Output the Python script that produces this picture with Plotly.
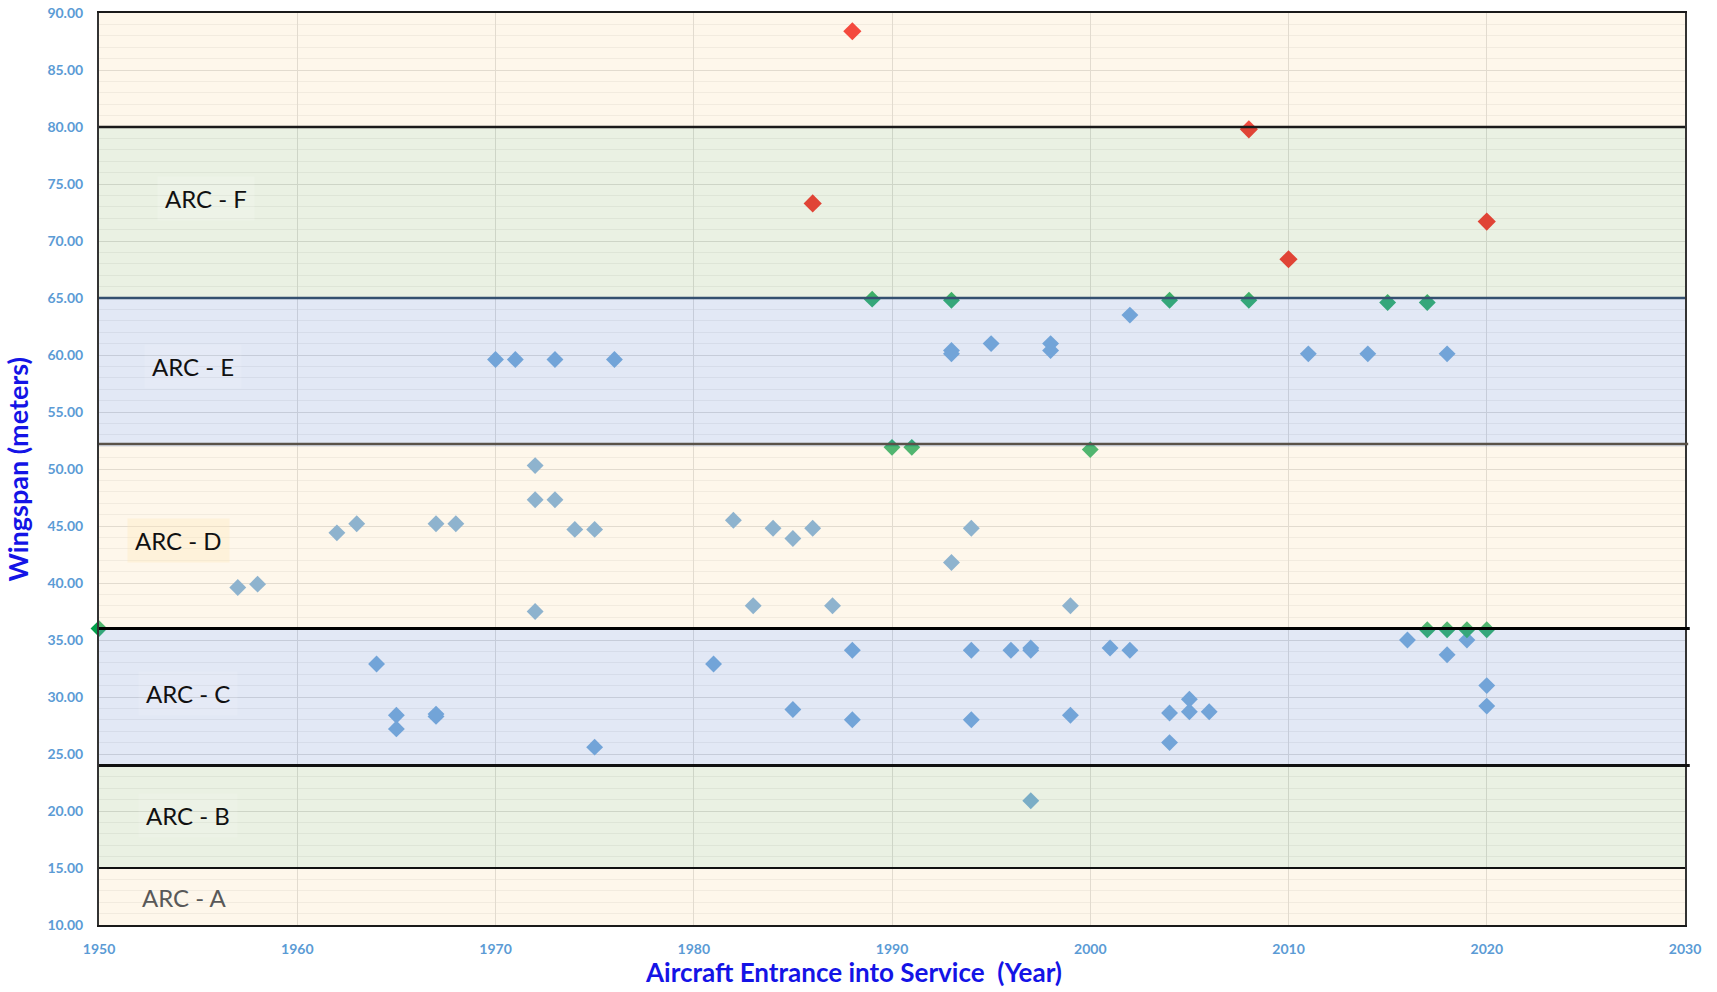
import plotly.graph_objects as go

# ---------------- data ----------------
blue_years = [1957, 1958, 1962, 1963, 1967, 1968, 1972, 1972, 1973, 1974, 1975, 1972,
              1982, 1984, 1985, 1986, 1983, 1987, 1993, 1994, 1999,
              1970, 1971, 1973, 1976, 1993, 1993, 1995, 1998, 1998, 2002, 2011, 2014, 2018,
              1964, 1965, 1965, 1967, 1967, 1975, 1981, 1985, 1988, 1988, 1994, 1994, 1996,
              1997, 1997, 1999, 2001, 2002, 2004, 2004, 2005, 2005, 2006, 2016, 2018, 2019,
              2020, 2020,
              1997]
blue_span = [39.6, 39.9, 44.4, 45.2, 45.2, 45.2, 50.3, 47.3, 47.3, 44.7, 44.7, 37.5,
             45.5, 44.8, 43.9, 44.8, 38.0, 38.0, 41.8, 44.8, 38.0,
             59.6, 59.6, 59.6, 59.6, 60.4, 60.1, 61.0, 61.0, 60.4, 63.5, 60.1, 60.1, 60.1,
             32.9, 28.4, 27.2, 28.3, 28.5, 25.6, 32.9, 28.9, 34.1, 28.0, 34.1, 28.0, 34.1,
             34.1, 34.3, 28.4, 34.3, 34.1, 28.6, 26.0, 29.8, 28.7, 28.7, 35.0, 33.7, 35.0,
             31.0, 29.2,
             20.9]

green_years = [1950, 1989, 1993, 2004, 2008, 2015, 2017, 1990, 1991, 2000, 2017, 2018, 2019, 2020]
green_span = [36.0, 64.9, 64.8, 64.8, 64.8, 64.6, 64.6, 51.9, 51.9, 51.7, 35.9, 35.9, 35.9, 35.9]

red_years = [1988, 1986, 2008, 2010, 2020]
red_span = [88.4, 73.3, 79.8, 68.4, 71.7]

band_bottoms = [10, 15, 24, 36, 52, 65, 80]
band_tops = [15, 24, 36, 52, 65, 80, 90]
band_names = ["ARC - A", "ARC - B", "ARC - C", "ARC - D", "ARC - E", "ARC - F", ""]
label_x = [1954.3, 1954.5, 1954.5, 1954.0, 1954.75, 1955.4]
label_y = [12.4, 19.6, 30.35, 43.7, 59.0, 73.7]
boundaries = [15, 24, 36, 52.2, 65, 80]

# ---------------- styling ----------------
band_fill = ["rgba(252,230,192,0.32)", "rgba(189,211,167,0.32)", "rgba(164,183,224,0.32)",
             "rgba(252,230,192,0.32)", "rgba(164,183,224,0.32)", "rgba(189,211,167,0.32)",
             "rgba(252,230,192,0.32)"]
line_color = ["#111111", "#111111", "#000000", "#5a5248", "#34506f", "#1a1a1a"]
line_width = [2, 3, 3, 2.5, 2.5, 2.5]
line_x1 = [1.0, 1.003, 1.003, 1.002, 1.0, 1.0]
label_bg = ["rgba(255,255,255,0.0)", "rgba(255,255,255,0.12)", "rgba(255,255,255,0.12)",
            "rgba(255,232,185,0.35)", "rgba(255,255,255,0.10)", "rgba(255,255,255,0.15)"]
label_color = ["#595959", "#111111", "#111111", "#111111", "#111111", "#111111"]

tick_font = dict(family="Lato", size=14, color="#5B9BD5", weight="bold")
title_color = "#1414E6"

fig = go.Figure()
fig.add_trace(go.Scatter(x=blue_years, y=blue_span, mode="markers",
                         marker=dict(symbol="diamond", size=13, color="#5B9BD5"),
                         showlegend=False, cliponaxis=False))
fig.add_trace(go.Scatter(x=green_years, y=green_span, mode="markers",
                         marker=dict(symbol="diamond", size=13, color="#00A04A"),
                         showlegend=False, cliponaxis=False))
fig.add_trace(go.Scatter(x=red_years, y=red_span, mode="markers",
                         marker=dict(symbol="diamond", size=14, color="#F00000"),
                         showlegend=False, cliponaxis=False))

shapes = []
for b0, b1, fc in zip(band_bottoms, band_tops, band_fill):
    shapes.append(dict(type="rect", xref="paper", yref="y", x0=0, x1=1, y0=b0, y1=b1,
                       fillcolor=fc, line=dict(width=0), layer="above"))
for yv, lc, lw, x1 in zip(boundaries, line_color, line_width, line_x1):
    shapes.append(dict(type="line", xref="paper", yref="y", x0=0, x1=x1, y0=yv, y1=yv,
                       line=dict(color=lc, width=lw), layer="above"))

annotations = []
for name, lx, ly, bg, col in zip(band_names, label_x, label_y, label_bg, label_color):
    annotations.append(dict(x=lx, y=ly, xref="x", yref="y", text=name, showarrow=False,
                            font=dict(family="Lato", size=24, color=col),
                            bgcolor=bg, borderpad=7))

annotations.append(dict(x=0.476, y=-0.051, xref="paper", yref="paper",
                        text="<b>Aircraft Entrance into Service  (Year)</b>", showarrow=False,
                        xanchor="center", yanchor="middle",
                        font=dict(family="Lato", size=26, color=title_color)))
annotations.append(dict(x=-0.052, y=0.5, xref="paper", yref="paper",
                        text="<b>Wingspan (meters)</b>", showarrow=False, textangle=-90,
                        xanchor="center", yanchor="middle",
                        font=dict(family="Lato", size=27, color=title_color)))

fig.update_layout(
    width=1717, height=992,
    margin=dict(l=99, r=32, t=13, b=67),
    paper_bgcolor="white", plot_bgcolor="white",
    shapes=shapes, annotations=annotations,
    xaxis=dict(range=[1950, 2030], dtick=10, tick0=1950, showgrid=True, gridcolor="#D6D6D6",
               gridwidth=1, zeroline=False, showline=True, mirror=True, linecolor="#1a1a1a",
               linewidth=2, ticks="outside", ticklen=10, tickcolor="rgba(0,0,0,0)",
               tickfont=tick_font, automargin=False),
    yaxis=dict(range=[10, 90], dtick=5, tick0=10, tickformat=".2f", showgrid=True,
               gridcolor="#D6D6D6", gridwidth=1, zeroline=False, showline=True, mirror=True,
               linecolor="#333333", linewidth=2, ticks="outside", ticklen=11,
               tickcolor="rgba(0,0,0,0)", tickfont=tick_font, automargin=False,
               minor=dict(dtick=1, showgrid=True, gridcolor="#EDEDED", gridwidth=1)),
)

fig.write_html("out.html", config={"displayModeBar": False},
               post_script="document.body.style.margin='0';document.body.style.overflow='hidden';")
